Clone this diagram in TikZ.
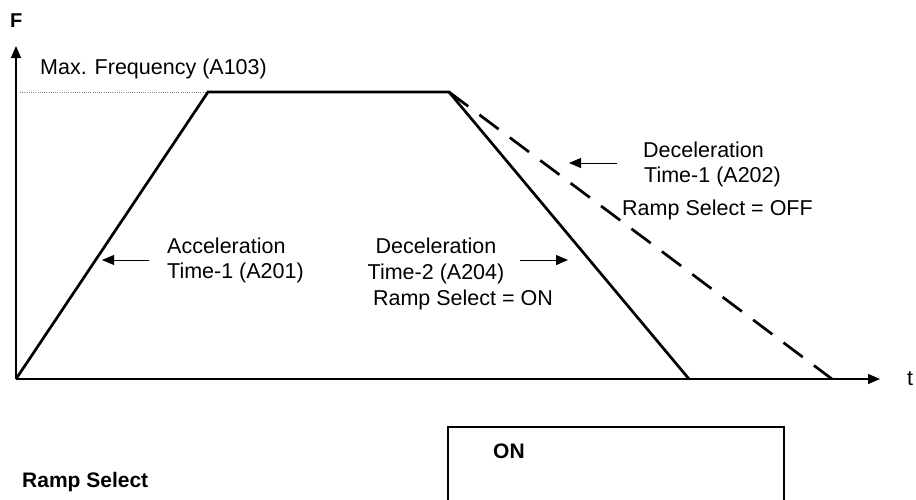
\documentclass[tikz,border=0pt]{standalone}
\usepackage{fontspec}
\setmainfont{Liberation Sans}
\usetikzlibrary{arrows.meta}
\begin{document}
\begin{tikzpicture}[x=1pt,y=-1pt,
  txt/.style={inner sep=0pt,anchor=base west,font=\fontsize{21.5}{25}\selectfont},
  txtc/.style={txt,anchor=base},
  btxt/.style={inner sep=0pt,anchor=base west,font=\fontsize{21}{25}\selectfont\bfseries},
  axis/.style={line width=1.3pt,-{Triangle[length=12pt,width=10pt]}},
  ramp/.style={line width=2.7pt,line join=miter},
  dashramp/.style={line width=2.7pt,dash pattern=on 24pt off 14pt},
  lblarrow/.style={line width=1pt,-{Triangle[length=12pt,width=10pt]}},
  guide/.style={gray,line width=0.8pt,dash pattern=on 1pt off 1.2pt}]
\useasboundingbox (0,0) rectangle (916,499);
% key points
\coordinate (O) at (16,379);
\coordinate (xend) at (880,379);
\coordinate (yend) at (16,46);
\coordinate (A) at (208,92);
\coordinate (B) at (449,92);
\coordinate (C) at (689,379);
\coordinate (D) at (832,379);
\coordinate (G) at (20,92);
% axes
\draw[axis] (O) -- (xend);
\draw[axis] (O) -- (yend);
% guide
\draw[guide] (G) -- (A);
% ramps
\draw[ramp] (O) -- (A) -- (B) -- (C);
\draw[dashramp] (B) -- (D);
% labels
\node[inner sep=0pt,anchor=base west,font=\fontsize{20}{22}\selectfont\bfseries] (F) at (10,27) {F};
\node[txt] (t) at (907,385) {t};
\node[txt] (maxf) at (40,74) {Max. Frequency (A103)};
\node[txt] (acc1) at (167,253) {Acceleration};
\node[txt] (acc2) at (167,278) {Time-1 (A201)};
\node[txtc] (dec2a) at (436,253) {Deceleration};
\node[txtc] (dec2b) at (436,279) {Time-2 (A204)};
\node[txtc] (rson) at (463,305) {Ramp Select = ON};
\node[txt] (dec1a) at (643,157) {Deceleration};
\node[txt] (dec1b) at (644,182) {Time-1 (A202)};
\node[txt] (rsoff) at (622,215) {Ramp Select = OFF};
% label arrows
\coordinate (a1s) at (149,260);
\coordinate (a1e) at (102,260);
\coordinate (a2s) at (520,260);
\coordinate (a2e) at (568,260);
\coordinate (a3s) at (617,163);
\coordinate (a3e) at (569,163);
\draw[lblarrow] (a1s) -- (a1e);
\draw[lblarrow] (a2s) -- (a2e);
\draw[lblarrow] (a3s) -- (a3e);
% ramp select signal
\coordinate (b1) at (448,505);
\coordinate (b2) at (448,427);
\coordinate (b3) at (784,427);
\coordinate (b4) at (784,505);
\begin{scope}
\clip (0,0) rectangle (916,499);
\draw[ramp] (b1) -- (b2) -- (b3) -- (b4);
\end{scope}
\node[btxt] (on) at (493,458) {ON};
\node[btxt] (rs) at (22,487) {Ramp Select};
\end{tikzpicture}
\end{document}
